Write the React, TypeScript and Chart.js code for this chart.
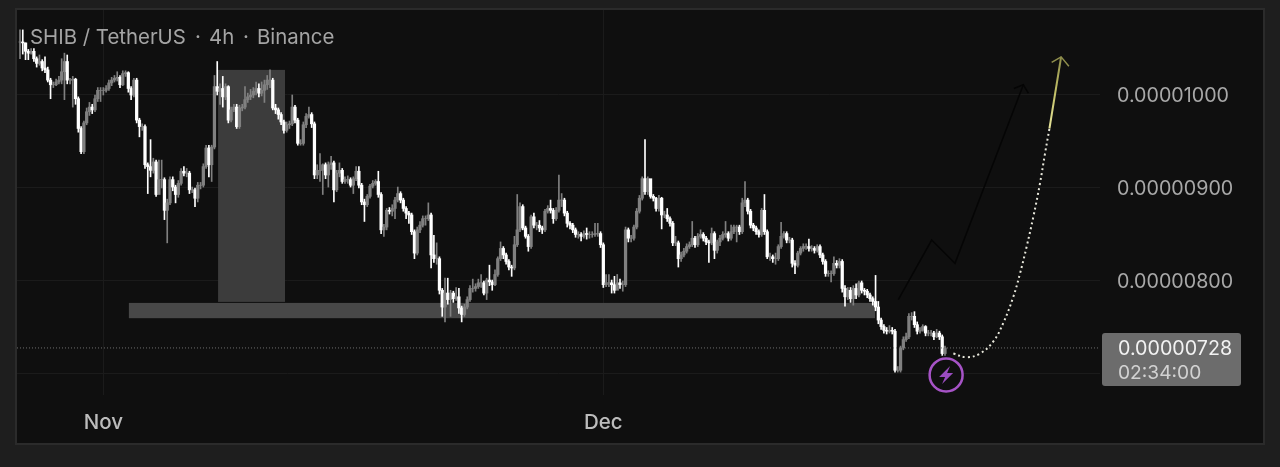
import React, { useEffect, useRef } from "react";
import { Chart, registerables } from "chart.js";

Chart.register(...registerables);

// All prices are in units of 0.00000001
const closes = [
  1057,1056,1047,1045,1047,1039,1034,1036,1029,1027,
  1016,1011,1011,1014,1016,1025,1036,1016,1016,1017,
  996,964,939,970,982,987,984,996,1005,1005,
  1005,1007,1013,1016,1018,1019,1011,1023,1024,1007,
  1000,1016,973,966,966,925,923,919,928,893,
  909,909,876,884,909,901,893,905,918,916,
  916,898,898,889,903,903,923,943,925,944,
  1009,1004,1007,998,1009,973,984,987,966,986,
  987,995,998,1000,1004,1007,1002,1005,1011,1016,
  1016,986,984,979,971,962,968,969,987,973,
  948,948,968,977,979,969,914,
  919,919,925,914,925,927,898,916,919,907,
  909,909,903,910,918,903,885,882,891,902,
  905,907,893,855,858,876,875,878,887,894,
  887,878,873,871,853,830,855,860,867,867,
  871,828,824,824,790,772,787,780,787,781,
  783,771,764,772,780,792,792,794,798,798,
  787,801,799,796,807,824,835,828,821,815,
  814,839,855,880,857,848,837,869,860,860,
  857,855,875,878,876,867,876,887,887,873,
  862,860,855,850,850,848,851,850,850,850,
  851,851,839,796,798,798,796,790,798,
  796,796,855,846,846,858,875,889,910,896,
  910,891,889,878,889,871,871,867,862,841,
  841,824,828,832,837,839,846,839,848,850,
  846,842,841,851,833,842,846,850,851,846,
  853,858,858,853,884,887,875,860,857,853,
  850,876,853,826,826,824,824,837,848,851,
  844,844,819,817,830,835,837,837,835,835,
  833,837,828,821,808,808,808,819,817,821,
  792,783,790,781,792,785,798,790,789,785,
  781,778,772,758,751,747,746,747,746,704,
  704,728,737,740,762,762,753,746,747,751,
  744,744,744,740,744,740,722,728,
];
const highs = [
  1070,1070,1056,1049,1050,1050,1041,1043,1038,1041,
  1030,1018,1014,1017,1020,1039,1045,1043,1018,1020,
  1018,998,966,972,986,992,990,1000,1008,1008,
  1008,1010,1016,1019,1021,1025,1021,1026,1026,1025,
  1009,1018,1018,975,969,968,927,952,932,930,
  930,930,911,888,912,912,903,908,921,923,
  921,918,901,900,906,906,926,946,946,946,
  1021,1036,1012,1020,1012,1010,987,990,990,989,
  990,1009,1002,1006,1008,1014,1012,1014,1016,1021,
  1027,1018,990,986,981,973,971,972,1000,989,
  975,952,971,980,987,981,971,
  925,937,926,927,928,934,929,919,927,921,
  912,913,911,912,923,923,905,888,893,904,
  908,909,918,895,861,878,879,882,890,901,
  896,889,880,875,873,855,858,864,870,870,
  884,873,849,841,826,792,803,803,790,789,
  793,792,773,775,783,795,802,797,802,807,
  800,803,817,801,812,826,842,837,830,823,
  817,848,893,884,882,859,850,871,873,863,
  865,859,877,881,887,878,879,914,894,889,
  875,864,862,857,853,852,854,857,853,853,
  862,862,853,841,807,807,801,805,807,
  802,800,858,857,849,860,878,892,912,952,
  912,903,893,890,892,890,875,878,869,864,
  848,843,831,835,840,842,864,848,851,855,
  852,848,844,857,853,844,849,853,864,853,
  860,860,860,860,889,907,889,877,862,859,
  855,878,893,855,830,828,830,839,863,853,
  853,847,846,822,832,837,840,840,845,838,
  837,839,839,830,823,811,811,826,822,824,
  823,795,793,793,795,797,800,800,792,791,
  787,783,806,778,760,753,750,752,750,748,
  708,730,740,744,765,766,767,756,750,753,
  752,747,747,746,748,746,742,730,
];
const lows = [
  1039,1044,1038,1038,1044,1036,1030,1032,1026,1024,
  1014,996,1008,1010,1012,1012,995,1012,1012,987,
  990,960,937,937,968,978,980,982,993,993,
  1000,1003,1005,1010,1014,1015,1008,1010,1020,1003,
  995,998,970,955,962,921,894,912,916,891,
  905,900,866,841,882,897,884,890,903,913,
  912,894,895,880,885,899,901,921,912,907,
  942,1000,990,987,995,970,971,982,964,964,
  983,985,992,995,997,1000,998,999,992,1006,
  1008,984,980,974,968,959,960,964,967,970,
  946,946,946,965,975,965,910,
  910,907,893,910,901,920,885,896,912,905,
  905,905,901,894,908,900,882,864,880,889,
  900,903,890,851,848,855,872,870,867,885,
  884,875,867,862,850,824,828,852,858,860,
  865,814,820,818,786,762,756,775,762,777,
  779,765,756,762,770,778,788,789,792,793,
  785,780,795,790,795,805,822,824,818,812,
  805,812,837,853,855,846,832,835,857,855,
  853,851,853,873,873,862,865,874,880,870,
  858,856,852,847,846,843,846,845,846,847,
  848,848,836,793,794,794,787,787,795,
  792,789,794,842,842,844,856,873,887,893,
  893,889,886,875,875,856,868,864,859,838,
  838,815,821,826,830,835,837,836,837,846,
  843,839,820,839,824,830,838,844,847,843,
  844,851,842,850,851,880,872,857,854,850,
  847,848,850,824,822,820,818,822,835,846,
  841,841,815,808,815,828,832,834,832,832,
  830,831,825,818,805,805,799,806,814,814,
  788,773,780,777,774,781,783,787,785,782,
  778,774,768,754,748,744,743,744,743,702,
  702,702,726,735,738,758,750,743,744,746,
  741,741,741,737,739,737,720,720,
];

const yTicks = [700, 800, 900, 1000];
const monthLabels = [{ index: 30, label: "Nov" }, { index: 210, label: "Dec" }];
const lastPrice = 728;
const lastPriceText = "0.00000728";
const countdownText = "02:34:00";
const titleParts = ["SHIB / TetherUS", "·", "4h", "·", "Binance"];
const titleOffsets = [30, 195, 209, 243, 257];

const verticalZone = { fromIndex: 71.3, toIndex: 95.4, low: 777.5, high: 1027 };
const horizontalZone = { fromIndex: 39.2, toIndex: 307.8, low: 760, high: 776.4 };

const dottedCurveIdx = [336, 340.8, 345.6, 350.4, 354, 357.6, 360, 362.4, 364.8, 367.2, 369, 370.6];
const dottedCurveVal = [722, 718, 722, 735, 755, 783, 808, 837, 869, 905, 937, 964];
const solidArrowIdx = [370.6, 374.8];
const solidArrowVal = [964, 1041];
const lightHeadIdx = [371.4, 374.8, 377.6];
const lightHeadVal = [1035, 1041, 1031];
const darkPathIdx = [316.2, 328.2, 336.6, 361.2];
const darkPathVal = [780, 844, 819, 1011];
const darkHeadIdx = [357.8, 361.2, 363];
const darkHeadVal = [1007, 1011, 1002];
const markerIdx = 333.4;
const markerVal = 699;

const FONT = "Inter, Roboto, sans-serif";
const zip = (xs: number[], ys: number[]) => xs.map((x, i) => ({ x, y: ys[i] }));

export default function App() {
  const ref = useRef<HTMLCanvasElement>(null);

  useEffect(() => {
    document.body.style.margin = "0";
    document.body.style.background = "#1e1e1e";
    const opens = closes.map((c, i) => (i === 0 ? c : closes[i - 1]));
    const up = (i: number) => closes[i] >= opens[i];
    const candleColor = (c: any) => (up(c.dataIndex) ? "#808080" : "#ffffff");

    const backdrop = {
      id: "backdrop",
      beforeDraw(chart: any) {
        const { ctx } = chart;
        ctx.save();
        ctx.fillStyle = "#1e1e1e";
        ctx.fillRect(0, 0, 1280, 467);
        ctx.fillStyle = "#2b2b2b";
        ctx.fillRect(15, 8, 1250, 437);
        ctx.fillStyle = "#0f0f0f";
        ctx.fillRect(17, 10, 1246, 433);
        ctx.restore();
      },
      beforeDatasetsDraw(chart: any) {
        const { ctx, scales } = chart;
        const { x, y } = scales;
        ctx.save();
        const box = (z: any, col: string) => {
          ctx.fillStyle = col;
          const l = x.getPixelForValue(z.fromIndex);
          const r = x.getPixelForValue(z.toIndex);
          const t = y.getPixelForValue(z.high);
          const b = y.getPixelForValue(z.low);
          ctx.fillRect(l, t, r - l, b - t);
        };
        box(verticalZone, "#3c3c3c");
        box(horizontalZone, "#484848");
        ctx.restore();
      },
      afterDraw(chart: any) {
        const { ctx, scales } = chart;
        const { x, y } = scales;
        ctx.save();
        ctx.font = `20.4px ${FONT}`;
        ctx.fillStyle = "#a4a4a4";
        ctx.textBaseline = "middle";
        ctx.textAlign = "left";
        titleParts.forEach((t, i) => ctx.fillText(t, titleOffsets[i], 38));
        // price tag
        const py = y.getPixelForValue(lastPrice);
        ctx.fillStyle = "#6c6c6c";
        ctx.beginPath();
        ctx.roundRect(1102, py - 15, 139, 53, 3);
        ctx.fill();
        ctx.font = `19.7px ${FONT}`;
        ctx.fillStyle = "#f2f2f2";
        ctx.fillText(lastPriceText, 1118, py + 1.5);
        ctx.font = `19.2px ${FONT}`;
        ctx.fillStyle = "#d2d2d2";
        ctx.fillText(countdownText, 1118, py + 25);
        // bolt
        const cx = x.getPixelForValue(markerIdx);
        const cy = y.getPixelForValue(markerVal);
        ctx.fillStyle = "#9a4cc0";
        ctx.beginPath();
        ctx.moveTo(cx + 4, cy - 9);
        ctx.lineTo(cx - 7, cy + 2);
        ctx.lineTo(cx - 1, cy + 2);
        ctx.lineTo(cx - 4, cy + 9);
        ctx.lineTo(cx + 7, cy - 2);
        ctx.lineTo(cx + 1, cy - 2);
        ctx.closePath();
        ctx.fill();
        ctx.restore();
      },
    };

    const lineBase = { type: "line", pointRadius: 0, fill: false, order: 0 };

    const chart = new Chart(ref.current as HTMLCanvasElement, {
      type: "bar",
      data: {
        datasets: [
          {
            ...lineBase,
            data: [{ x: markerIdx, y: markerVal }],
            pointRadius: 16.5,
            pointBackgroundColor: "rgba(15,15,15,1)",
            pointBorderColor: "#a653c6",
            pointBorderWidth: 2.5,
            showLine: false,
          },
          {
            ...lineBase,
            data: zip(dottedCurveIdx, dottedCurveVal),
            borderColor: "#e8e8dc",
            borderWidth: 2,
            borderDash: [2, 3],
            tension: 0.4,
          },
          {
            ...lineBase,
            data: zip(solidArrowIdx, solidArrowVal),
            borderWidth: 2,
            borderColor: (c: any) => {
              const { chart: ch } = c;
              if (!ch.chartArea) return "#a8a650";
              const g = ch.ctx.createLinearGradient(0, ch.scales.y.getPixelForValue(964), 0, ch.scales.y.getPixelForValue(1041));
              g.addColorStop(0, "#e6e49a");
              g.addColorStop(0.5, "#c3c168");
              g.addColorStop(1, "#8f8e4c");
              return g;
            },
          },
          { ...lineBase, data: zip(lightHeadIdx, lightHeadVal), borderColor: "#8f8e4c", borderWidth: 1.5 },
          { ...lineBase, data: zip(darkPathIdx, darkPathVal), borderColor: "#050505", borderWidth: 1.5 },
          { ...lineBase, data: zip(darkHeadIdx, darkHeadVal), borderColor: "#050505", borderWidth: 1.5 },
          {
            ...lineBase,
            data: [{ x: -1.08, y: lastPrice }, { x: 388.8, y: lastPrice }],
            borderColor: "#6e6e6e",
            borderWidth: 1,
            borderDash: [1, 2],
          },
          {
            type: "bar",
            grouped: false,
            barThickness: 2.6,
            order: 1,
            data: closes.map((c, i) => ({ x: i, y: [opens[i], c] })),
            backgroundColor: candleColor,
          },
          {
            type: "bar",
            grouped: false,
            barThickness: 1,
            order: 2,
            data: closes.map((_, i) => ({ x: i, y: [lows[i], highs[i]] })),
            backgroundColor: candleColor,
          },
        ] as any,
      },
      options: {
        responsive: false,
        animation: false,
        events: [],
        layout: { autoPadding: false, padding: { left: 17, right: 17, top: 10, bottom: 24 } },
        plugins: { legend: { display: false }, tooltip: { enabled: false }, title: { display: false } },
        scales: {
          x: {
            type: "linear",
            offset: false,
            min: -1.08,
            max: 388.8,
            afterFit: (s: any) => { s.height = 48; s.paddingLeft = 0; s.paddingRight = 0; },
            afterBuildTicks: (s: any) => { s.ticks = monthLabels.map((m) => ({ value: m.index })); },
            border: { display: false },
            grid: { color: "#1b1b1b", drawTicks: false, offset: false },
            ticks: {
              autoSkip: false,
              maxRotation: 0,
              padding: 16,
              color: "#bcbcbc",
              font: { family: FONT, size: 20.5, weight: "500" },
              callback: (v: any) => monthLabels.find((m) => m.index === v)?.label ?? "",
            },
          },
          y: {
            type: "linear",
            position: "right",
            min: 677.4,
            max: 1091.4,
            afterFit: (s: any) => { s.width = 163; s.paddingTop = 0; s.paddingBottom = 0; },
            afterBuildTicks: (s: any) => { s.ticks = yTicks.map((value) => ({ value })); },
            border: { display: false },
            grid: { color: "#1b1b1b", drawTicks: false, offset: false },
            ticks: {
              padding: 17,
              labelOffset: 1.5,
              color: "#a8a8a8",
              font: { family: FONT, size: 19.7 },
              callback: (v: any) => (Number(v) / 1e8).toFixed(8),
            },
          },
        },
      } as any,
      plugins: [backdrop],
    } as any);
    return () => chart.destroy();
  }, []);

  return <canvas ref={ref} width={1280} height={467} style={{ display: "block" }} />;
}
